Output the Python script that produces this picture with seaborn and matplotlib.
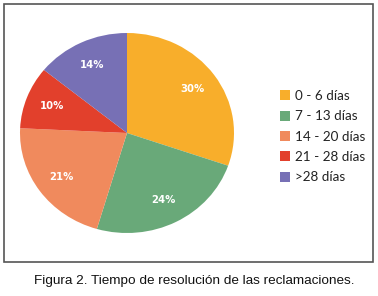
import matplotlib
matplotlib.use("Agg")
import matplotlib.pyplot as plt
import seaborn as sns
from matplotlib.patches import Rectangle, Patch

sns.set_theme(style="white")
plt.rcParams['font.family'] = ['DejaVu Sans']

categories = ["0 - 6 días", "7 - 13 días", "14 - 20 días", "21 - 28 días", ">28 días"]
values = [30, 24, 21, 10, 14]
colors = ["#F8AE2B", "#69A979", "#F08A5D", "#E2402C", "#7770B5"]
caption = "Figura 2. Tiempo de resolución de las reclamaciones."

W, H = 378, 296
fig = plt.figure(figsize=(W / 100, H / 100), dpi=100)
fig.patch.set_facecolor("white")

# pie axes (slightly elliptical as in reference)
ax = fig.add_axes([20 / W, (H - 233) / H, 214 / W, 200 / H])
wedges, texts, autotexts = ax.pie(
    values, colors=colors, startangle=90, counterclock=False,
    autopct=lambda p: f"{p * sum(values) / 100:.0f}%", pctdistance=0.75,
    wedgeprops=dict(linewidth=0),
    textprops=dict(color="white", fontweight="bold", fontsize=7.3,
                   family=["DejaVu Sans"]),
)
ax.set_aspect("auto")
ax.set_xlim(-1, 1)
ax.set_ylim(-1, 1)
ax.axis("off")

handles = [Patch(facecolor=c, edgecolor="none") for c in colors]
leg = fig.legend(handles, categories, loc="upper left",
                 bbox_to_anchor=(280 / W, 1 - 90 / H), frameon=False,
                 handlelength=0.75, handleheight=0.75, handletextpad=0.4,
                 labelspacing=0.62, borderaxespad=0, borderpad=0,
                 prop=dict(family="Lato", size=9.7))
for t in leg.get_texts():
    t.set_color("#222222")

# frame around chart
fig.add_artist(Rectangle((4 / W, 1 - 262 / H), 369 / W, 258 / H,
                         transform=fig.transFigure, fill=False,
                         edgecolor="#555555", linewidth=1.2))

fig.text(194 / W, 1 - 281 / H, caption, ha="center", va="center",
         fontsize=9.7, family="Liberation Sans", color="#111111")

fig.savefig("out.png", dpi=100)
